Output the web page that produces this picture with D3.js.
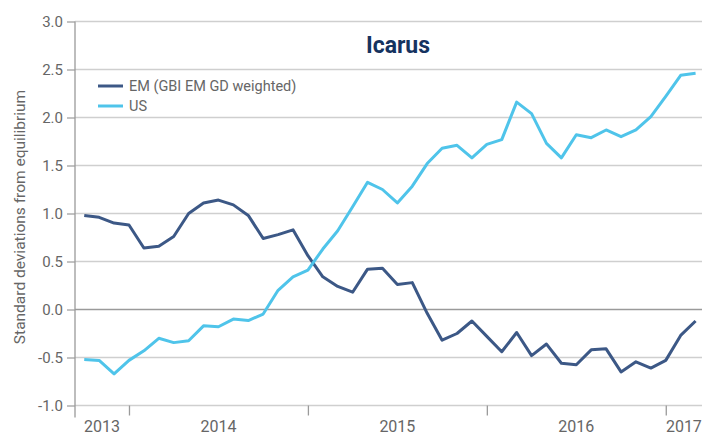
<!DOCTYPE html>
<html>
<head>
<meta charset="utf-8">
<script src="https://cdn.jsdelivr.net/npm/d3@7"></script>
<style>
  html, body { margin: 0; padding: 0; background: #fff; }
  svg { display: block; }
  text { font-family: "Roboto", "Liberation Sans", sans-serif; }
</style>
</head>
<body>
<svg id="chart" width="702" height="436"></svg>
<script>
// Monthly observations, Oct 2013 – Mar 2017
const months = [
  "2013-10","2013-11","2013-12",
  "2014-01","2014-02","2014-03","2014-04","2014-05","2014-06","2014-07","2014-08","2014-09","2014-10","2014-11","2014-12",
  "2015-01","2015-02","2015-03","2015-04","2015-05","2015-06","2015-07","2015-08","2015-09","2015-10","2015-11","2015-12",
  "2016-01","2016-02","2016-03","2016-04","2016-05","2016-06","2016-07","2016-08","2016-09","2016-10","2016-11","2016-12",
  "2017-01","2017-02","2017-03"
];
const emValues = [
  0.98, 0.96, 0.90, 0.88, 0.64, 0.66, 0.76, 1.00, 1.11, 1.14, 1.09, 0.98, 0.74, 0.78, 0.83,
  0.56, 0.34, 0.24, 0.18, 0.42, 0.43, 0.26, 0.28, -0.04, -0.32, -0.25, -0.12,
  -0.28, -0.44, -0.24, -0.48, -0.36, -0.56, -0.575, -0.42, -0.41, -0.65, -0.545, -0.61,
  -0.53, -0.27, -0.12
];
const usValues = [
  -0.52, -0.53, -0.67, -0.53, -0.43, -0.30, -0.345, -0.325, -0.17, -0.18, -0.10, -0.115, -0.047, 0.20, 0.34,
  0.41, 0.63, 0.82, 1.07, 1.325, 1.25, 1.11, 1.285, 1.52, 1.68, 1.71, 1.58,
  1.72, 1.77, 2.16, 2.04, 1.73, 1.58, 1.82, 1.79, 1.87, 1.80, 1.87, 2.01,
  2.22, 2.44, 2.46
];
const seriesNames = ["EM (GBI EM GD weighted)", "US"];
const yearLabels = ["2013", "2014", "2015", "2016", "2017"];
const yTickValues = [-1.0, -0.5, 0.0, 0.5, 1.0, 1.5, 2.0, 2.5, 3.0];
const titleText = "Icarus";
const yTitle = "Standard deviations from equilibrium";

const svg = d3.select("#chart");
const W = 702, H = 436;
const colEM = "#3c5886", colUS = "#4fc4ea";

const n = months.length;
const x = d3.scaleLinear().domain([-0.62, n - 1 + 0.43]).range([75, 702]);
const y = d3.scaleLinear().domain([-1, 3]).range([405.5, 21.5]);

// year boundaries (index of each January)
const jan = months.map((m, i) => m.endsWith("-01") ? i : null).filter(v => v !== null);
const bounds = [x.domain()[0], ...jan, x.domain()[1]];

// gridlines
svg.append("g").selectAll("line").data(yTickValues).join("line")
  .attr("x1", 75).attr("x2", W)
  .attr("y1", d => y(d)).attr("y2", d => y(d))
  .attr("stroke", d => d === 0 ? "#9a9a9a" : "#cfcfcf")
  .attr("stroke-width", 1.3);

// y axis
const yAxis = d3.axisLeft(y).tickValues(yTickValues).tickSize(8).tickSizeOuter(0).tickPadding(4)
  .tickFormat(d => d.toFixed(1));
const gy = svg.append("g").attr("transform", "translate(75,0)").call(yAxis);
gy.select(".domain").remove();
gy.selectAll(".tick line").attr("stroke", "#9a9a9a").attr("stroke-width", 1.2);
gy.selectAll(".tick text").attr("fill", "#666").attr("font-size", 15)
  .attr("font-family", "Roboto, sans-serif");
svg.append("line").attr("x1", 75).attr("x2", 75).attr("y1", y(3)).attr("y2", y(-1) + 12)
  .attr("stroke", "#9a9a9a").attr("stroke-width", 1.3);

// x axis ticks at year boundaries
const xAxis = d3.axisBottom(x).tickValues(jan).tickSize(10).tickSizeOuter(0).tickFormat("");
const gx = svg.append("g").attr("transform", `translate(0,${y(-1)})`).call(xAxis);
gx.select(".domain").remove();
gx.selectAll(".tick line").attr("stroke", "#9a9a9a").attr("stroke-width", 1.3);

// year labels centered in each span
svg.append("g").selectAll("text").data(yearLabels).join("text")
  .attr("x", (d, i) => (x(bounds[i]) + x(bounds[i + 1])) / 2)
  .attr("y", 432)
  .attr("text-anchor", "middle")
  .attr("fill", "#666").attr("font-size", 16)
  .text(d => d);

// lines
const line = d3.line().x((d, i) => x(i)).y(d => y(d));
svg.append("path").datum(emValues).attr("d", line)
  .attr("fill", "none").attr("stroke", colEM).attr("stroke-width", 3).attr("stroke-linejoin", "round");
svg.append("path").datum(usValues).attr("d", line)
  .attr("fill", "none").attr("stroke", colUS).attr("stroke-width", 3).attr("stroke-linejoin", "round");

// title
svg.append("text").attr("x", 398).attr("y", 53).attr("text-anchor", "middle")
  .attr("font-weight", "bold").attr("font-size", 23).attr("fill", "#15335f")
  .text(titleText);

// y title
svg.append("text").attr("transform", "translate(25,217) rotate(-90)")
  .attr("text-anchor", "middle").attr("fill", "#666").attr("font-size", 15.5)
  .text(yTitle);

// legend
const legend = svg.append("g");
const legCols = [colEM, colUS];
seriesNames.forEach((name, i) => {
  const ly = 86 + i * 20;
  legend.append("line").attr("x1", 98).attr("x2", 123).attr("y1", ly).attr("y2", ly)
    .attr("stroke", legCols[i]).attr("stroke-width", 3);
  legend.append("text").attr("x", 129).attr("y", ly + 5.3).attr("fill", "#666")
    .attr("font-size", 14.5).text(name);
});
</script>
</body>
</html>
